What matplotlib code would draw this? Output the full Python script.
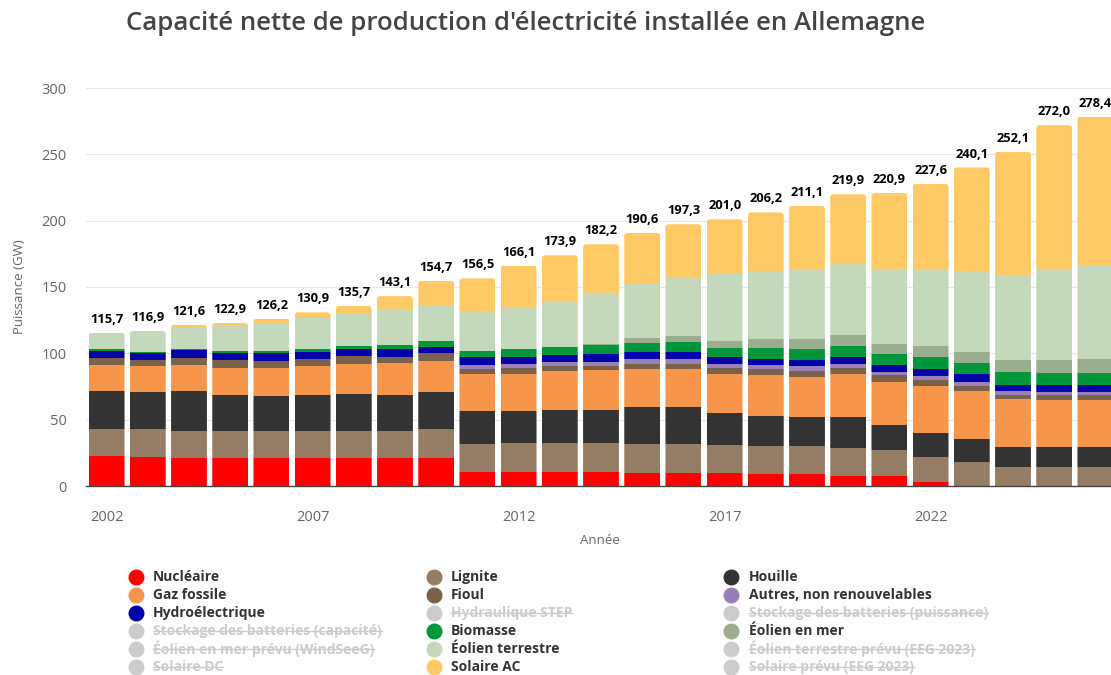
import matplotlib
matplotlib.use("Agg")
import matplotlib.pyplot as plt
from matplotlib.lines import Line2D
from matplotlib.patches import FancyBboxPatch
import numpy as np

plt.rcParams['font.family'] = ['Open Sans', 'DejaVu Sans']

years = list(range(2002, 2027))

nucleaire = [22.5, 21.7, 21.0, 21.0, 21.0, 21.0, 21.0, 21.0, 21.0, 10.9, 10.9, 10.9, 10.9,
             9.9, 9.9, 9.9, 8.9, 8.9, 7.2, 7.2, 3.1, 0, 0, 0, 0]
lignite = [20.8, 20.9, 20.6, 20.6, 20.6, 20.6, 20.6, 20.6, 21.6, 20.9, 21.7, 21.7, 21.7,
           21.9, 21.9, 20.8, 20.9, 20.9, 21.6, 19.6, 18.6, 18.2, 14.2, 14.2, 14.2]
houille = [28.2, 28.1, 29.9, 26.8, 26.1, 26.8, 27.9, 27.1, 28.1, 25.1, 24.3, 25.0, 25.0,
           28.1, 27.4, 24.2, 23.3, 22.3, 23.3, 19.5, 18.6, 17.4, 15.0, 15.0, 15.0]
gaz = [19.6, 19.6, 19.6, 20.9, 21.6, 21.9, 22.6, 23.9, 23.4, 27.6, 27.6, 28.9, 29.9,
       28.1, 29.1, 29.6, 30.4, 30.4, 32.4, 32.2, 35.2, 35.8, 36.7, 35.7, 35.7]
fioul = [5.7, 5.0, 5.7, 5.8, 4.8, 5.5, 5.7, 4.5, 6.0, 3.5, 4.3, 3.6, 3.3,
         3.6, 3.5, 4.6, 4.5, 4.0, 4.6, 4.8, 4.5, 4.1, 2.8, 3.8, 3.8]
autres = [0, 0, 0, 0, 0, 0, 0, 0, 0, 3.3, 3.5, 3.7, 3.0,
          4.2, 4.3, 3.0, 3.0, 3.8, 3.0, 2.7, 3.0, 2.7, 2.7, 2.0, 2.0]
hydro = [5.3, 4.8, 5.6, 5.0, 6.0, 5.1, 5.3, 6.0, 4.5, 5.8, 4.8, 5.0, 5.8,
         5.0, 4.7, 5.0, 5.1, 4.8, 5.0, 5.0, 5.3, 6.3, 4.8, 5.5, 5.5]
biomasse = [0.8, 0.9, 1.2, 2.0, 2.0, 2.7, 2.8, 3.5, 5.0, 5.0, 6.0, 5.8, 7.0,
            6.8, 7.6, 6.7, 7.7, 7.8, 8.8, 8.6, 8.8, 8.3, 10.1, 8.8, 8.8]
eolien_mer = [0, 0, 0, 0, 0, 0, 0, 0, 0, 0, 0, 0.5, 0.8,
              3.6, 4.3, 5.8, 6.9, 7.8, 7.8, 7.8, 8.8, 8.0, 8.5, 9.8, 10.8]
eolien_terre = [12.5, 15.5, 16.4, 18.6, 21.0, 23.1, 23.8, 25.7, 26.7, 29.4, 31.2, 33.9, 37.4,
                41.6, 44.6, 50.3, 51.7, 53.0, 53.7, 56.3, 57.8, 60.6, 63.6, 68.6, 69.8]
solaire_ac = [0.3, 0.4, 1.6, 2.2, 3.1, 4.2, 6.0, 10.8, 18.4, 25.0, 31.8, 34.9, 37.4,
              37.9, 40.0, 41.1, 43.8, 47.4, 52.5, 57.2, 63.9, 78.7, 93.7, 108.6, 112.8]

totals = ["115,7", "116,9", "121,6", "122,9", "126,2", "130,9", "135,7", "143,1", "154,7",
          "156,5", "166,1", "173,9", "182,2", "190,6", "197,3", "201,0", "206,2", "211,1",
          "219,9", "220,9", "227,6", "240,1", "252,1", "272,0", "278,4"]

series = [
    ("Nucléaire", nucleaire, "#ff0000"),
    ("Lignite", lignite, "#957c64"),
    ("Houille", houille, "#333333"),
    ("Gaz fossile", gaz, "#f7964a"),
    ("Fioul", fioul, "#7a6149"),
    ("Autres, non renouvelables", autres, "#9a80b6"),
    ("Hydroélectrique", hydro, "#0000a8"),
    ("Biomasse", biomasse, "#00973b"),
    ("Éolien en mer", eolien_mer, "#9aae8f"),
    ("Éolien terrestre", eolien_terre, "#c4d9bb"),
    ("Solaire AC", solaire_ac, "#ffc966"),
]

legend_items = [
    ("Nucléaire", "#ff0000", True), ("Lignite", "#957c64", True), ("Houille", "#333333", True),
    ("Gaz fossile", "#f7964a", True), ("Fioul", "#7a6149", True), ("Autres, non renouvelables", "#9a80b6", True),
    ("Hydroélectrique", "#0000a8", True), ("Hydraulique STEP", "#cccccc", False),
    ("Stockage des batteries (puissance)", "#cccccc", False),
    ("Stockage des batteries (capacité)", "#cccccc", False), ("Biomasse", "#00973b", True),
    ("Éolien en mer", "#9aae8f", True),
    ("Éolien en mer prévu (WindSeeG)", "#cccccc", False), ("Éolien terrestre", "#c4d9bb", True),
    ("Éolien terrestre prévu (EEG 2023)", "#cccccc", False),
    ("Solaire DC", "#cccccc", False), ("Solaire AC", "#ffc966", True),
    ("Solaire prévu (EEG 2023)", "#cccccc", False),
]

W, H = 1111, 675
fig = plt.figure(figsize=(W / 100, H / 100), dpi=100)
ax = fig.add_axes([86 / W, 1 - 486 / H, 1030 / W, 398 / H])
ax.set_xlim(-0.5, len(years) - 0.5)
ax.set_ylim(0, 300)

x = np.arange(len(years))
bw = 0.87
stack_tops = np.zeros(len(years))
for name, vals, col in series:
    stack_tops += np.array(vals, dtype=float)

# rounded-top clip shapes, one per bar
px_per_x = 1030 / len(years)
px_per_y = 398 / 300
clips = []
for xi, top in zip(x, stack_tops):
    p = FancyBboxPatch((xi - bw / 2, -20), bw, top + 20,
                       boxstyle="round,pad=0,rounding_size=%f" % (3.5 / px_per_x),
                       mutation_aspect=px_per_x / px_per_y, transform=ax.transData)
    clips.append(p)

bottom = np.zeros(len(years))
for name, vals, col in series:
    v = np.array(vals, dtype=float)
    rects = ax.bar(x, v, bottom=bottom, width=bw, color=col, linewidth=0, zorder=3)
    for r, cp in zip(rects, clips):
        r.set_clip_path(cp)
    bottom += v

for xi, top, lab in zip(x, bottom, totals):
    ax.annotate(lab, (xi, top), xytext=(0, 5), textcoords="offset points",
                ha="center", va="bottom", fontsize=9.3, fontweight="bold", color="black", zorder=5)

ax.set_yticks(range(0, 301, 50))
ax.set_xticks(x[::5])
ax.set_xticklabels([str(years[i]) for i in range(0, len(years), 5)])
ax.tick_params(axis="both", length=0, labelsize=10.5, labelcolor="#666666")
ax.tick_params(axis="x", pad=17)
ax.tick_params(axis="y", pad=14)
ax.grid(axis="y", color="#e6e6e6", linewidth=0.8, zorder=0)
ax.set_axisbelow(True)
for s in ["top", "right", "left"]:
    ax.spines[s].set_visible(False)
ax.spines["bottom"].set_color("#444444")
ax.spines["bottom"].set_linewidth(1.0)
ax.spines["bottom"].set_zorder(4)

fig.text(20 / W, 1 - 287 / H, "Puissance (GW)", rotation=90, ha="center", va="center",
         fontsize=9.5, color="#666666")
fig.text(600 / W, 1 - 541 / H, "Année", ha="center", va="center", fontsize=9.5, color="#666666")
fig.text(526 / W, 1 - 24 / H, "Capacité nette de production d'électricité installée en Allemagne",
         ha="center", va="center", fontsize=18.5, fontweight="semibold", color="#444444")

col_marker = [136, 434, 731]
col_text = [153, 451, 749]
row_y = [577, 595, 613, 631, 649, 667]
texts = []
for i, (name, col, vis) in enumerate(legend_items):
    r, c = divmod(i, 3)
    yy = 1 - row_y[r] / H
    fig.add_artist(Line2D([col_marker[c] / W], [yy], marker="o", markersize=10.5,
                          markerfacecolor=col, markeredgecolor=col, linestyle="none"))
    t = fig.text(col_text[c] / W, yy, name, ha="left", va="center", fontsize=10,
                 fontweight="bold", color="#333333" if vis else "#cccccc")
    texts.append((t, vis))

fig.canvas.draw()
renderer = fig.canvas.get_renderer()
for t, vis in texts:
    if not vis:
        bb = t.get_window_extent(renderer)
        ymid = (bb.y0 + bb.y1) / 2 + 0.5
        fig.add_artist(Line2D([bb.x0 / W, bb.x1 / W], [ymid / H, ymid / H],
                              color="#cccccc", linewidth=1.0))

fig.savefig("out.png", dpi=100)
